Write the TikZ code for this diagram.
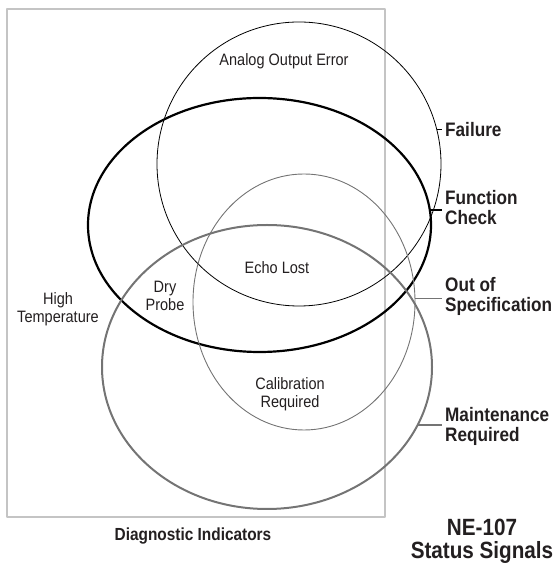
\documentclass[tikz,border=0pt]{standalone}
\usepackage{fontspec}
\setmainfont{Liberation Sans}[FakeStretch=0.88]
\usetikzlibrary{shapes.geometric}
\definecolor{inkgray}{HTML}{231F20}
\definecolor{ringgray}{HTML}{747474}
\definecolor{framegray}{HTML}{C4C4C4}
\begin{document}
\begin{tikzpicture}[line join=bevel,
  venn/.style={ellipse,inner sep=0pt,outer sep=0pt},
  txt/.style={align=center,text=inkgray,inner sep=0pt,font=\fontsize{16.5bp}{18bp}\selectfont},
  sig/.style={align=left,anchor=west,text=inkgray,inner sep=3bp,font=\bfseries\fontsize{19.5bp}{20bp}\selectfont},
  ]
\useasboundingbox (0bp,0bp) rectangle (559bp,576bp);
%%
\node (frame) at (196bp,313bp) [draw=framegray,line width=1.2bp,rectangle,minimum width=378bp,minimum height=508bp,inner sep=0pt] {};
  \node (fail) at (299bp,412bp) [venn,draw=black,line width=0.8bp,minimum width=284bp,minimum height=284bp] {};
  \node (check) at (259.5bp,351bp) [venn,draw=black,line width=2.2bp,minimum width=343bp,minimum height=254bp] {};
  \node (spec) at (304bp,274bp) [venn,draw=ringgray,line width=0.9bp,minimum width=222bp,minimum height=256bp] {};
  \node (maint) at (267bp,209bp) [venn,draw=ringgray,line width=2bp,minimum width=330bp,minimum height=284bp] {};
  \node (analog) at (284bp,515bp) [txt] {Analog Output Error};
  \node (echo) at (277bp,308bp) [txt] {Echo Lost};
  \node (dry) at (165bp,280bp) [txt] {Dry\\Probe};
  \node (hightemp) at (58bp,267bp) [txt] {High\\Temperature};
  \node (calib) at (290bp,182bp) [txt] {Calibration\\Required};
  \node (failure) at (442bp,446bp) [sig] {Failure};
  \node (function) at (442bp,368bp) [sig] {Function\\Check};
  \node (outofspec) at (442bp,280bp) [sig] {Out of\\Specification};
  \node (maintenance) at (442bp,150bp) [sig] {Maintenance\\Required};
  \node (diag) at (193bp,40bp) [txt,font=\bfseries\fontsize{17.5bp}{20bp}\selectfont] {Diagnostic Indicators};
  \node (ne) at (482bp,35bp) [txt,font=\bfseries\fontsize{23.5bp}{23bp}\selectfont] {NE-107\\Status Signals};
  \draw [black,line width=1.5bp] (fail.14) -- (fail.14 -| failure.west);
  \draw [black,line width=2bp] (check.5.7) -- (check.5.7 -| function.west);
  \draw [ringgray,line width=1bp] (spec.2.4) -- (spec.2.4 -| outofspec.west);
  \draw [ringgray,line width=2bp] (maint.-21.5) -- (maint.-21.5 -| maintenance.west);
%
\end{tikzpicture}
\end{document}
